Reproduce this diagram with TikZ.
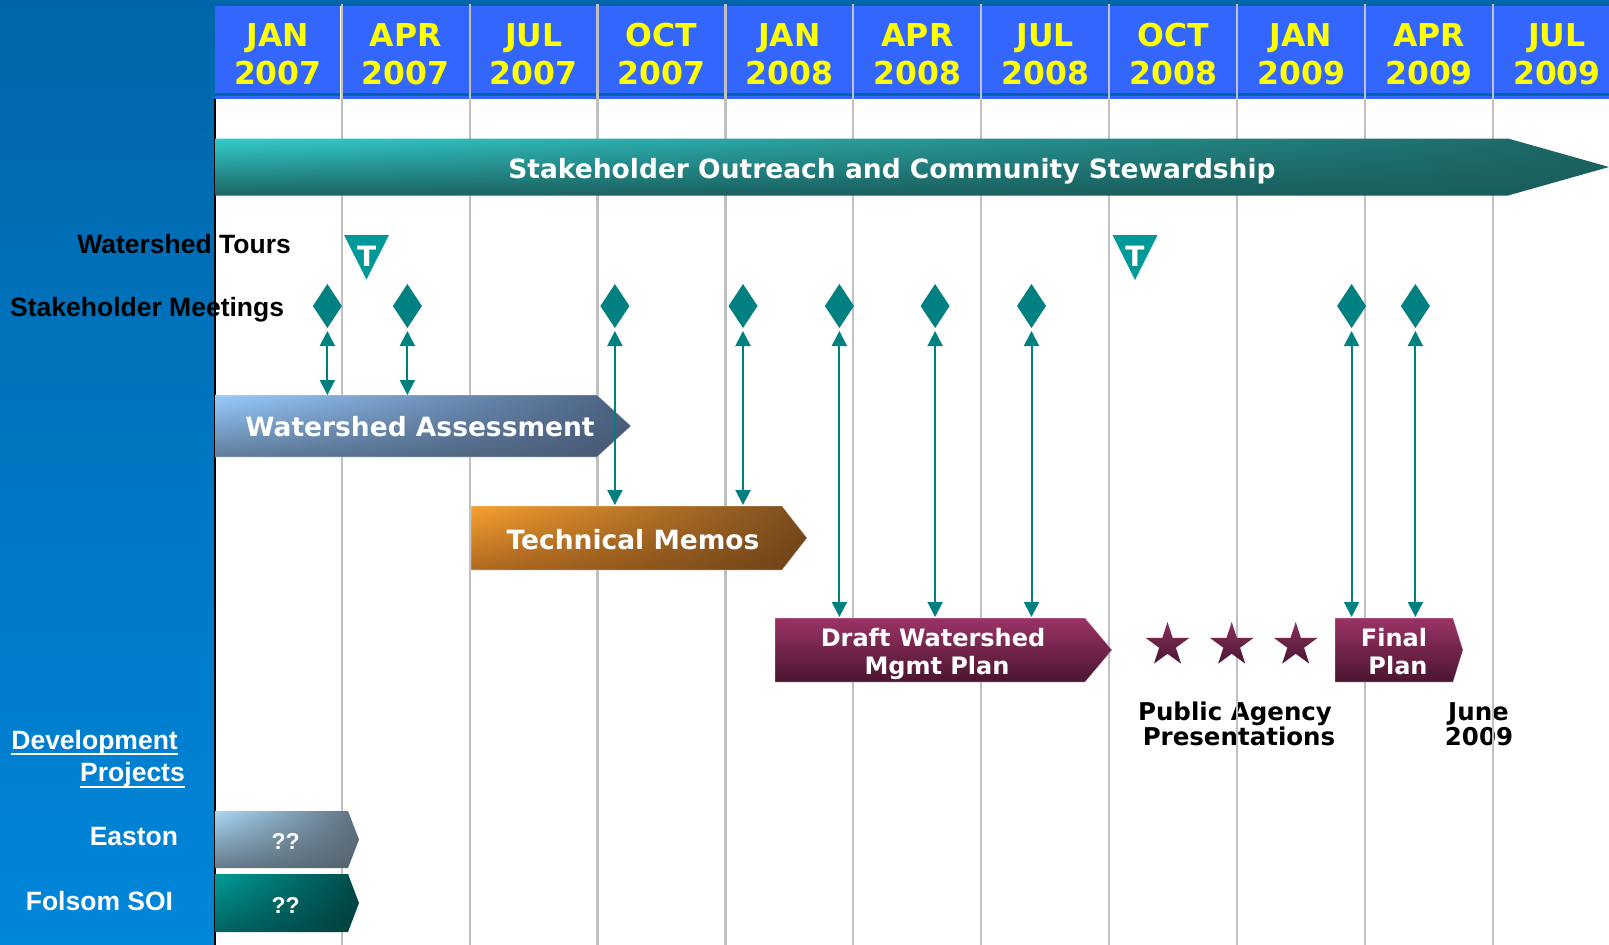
\documentclass[tikz,border=0pt]{standalone}
\usepackage{fontspec}
\usetikzlibrary{shapes.geometric,arrows.meta,shadings}
\newfontfamily\verd{DejaVu Sans}
\newfontfamily\arl{Liberation Sans}
\definecolor{panelTop}{HTML}{0066AA}
\definecolor{panelBot}{HTML}{0086DA}
\definecolor{hdrBlue}{HTML}{3366FF}
\definecolor{hdrLine}{HTML}{0066A8}
\definecolor{hdrYel}{HTML}{FFFF00}
\definecolor{gridGray}{HTML}{C0C0C0}
\definecolor{tealD}{HTML}{008080}
\definecolor{tealL}{HTML}{009999}
\definecolor{marT}{HTML}{9B3366}
\definecolor{marB}{HTML}{4A1530}
\definecolor{starT}{HTML}{8A2E5E}
\definecolor{starB}{HTML}{4A1733}
\begin{document}
\begin{tikzpicture}[x=1pt,y=-1pt,
  hdrtxt/.style={text=hdrYel, font=\verd\bfseries\fontsize{31.5}{36}\selectfont, inner sep=0pt},
  lbl/.style={font=\arl\bfseries\fontsize{26.5}{30}\selectfont, inner sep=0pt},
  bartxt/.style={text=white, font=\verd\bfseries\fontsize{26.5}{30}\selectfont, inner sep=0pt},
  plantxt/.style={text=white, font=\verd\bfseries\fontsize{24}{28}\selectfont, inner sep=0pt},
  blacktxt/.style={text=black, font=\verd\bfseries\fontsize{24.5}{28}\selectfont, inner sep=0pt},
  qtxt/.style={text=white, font=\arl\bfseries\fontsize{23}{26}\selectfont, inner sep=0pt},
  ttxt/.style={text=white, font=\verd\bfseries\fontsize{28}{30}\selectfont, inner sep=0pt},
  dia/.style={diamond, fill=tealD, minimum width=29pt, minimum height=44pt, inner sep=0pt, outer sep=0pt},
  conn/.style={draw=tealD, line width=2pt, arrows={Triangle[width=15pt,length=15pt]-Triangle[width=15pt,length=15pt]}},
  tri/.style={fill=tealL},
  starnode/.style={star, star points=5, star point ratio=2.618, minimum size=46pt, inner sep=0pt, outer sep=0pt, top color=starT, bottom color=starB},
  barline/.style={draw=white, draw opacity=0.35, line width=0.8pt}
]
\useasboundingbox (0,0) rectangle (1609,945);
\fill[white] (0,0) rectangle (1609,945);
% top strip and left panel
\fill[panelTop] (0,0) rectangle (1609,6);
\shade[top color=panelTop, bottom color=panelBot] (0,0) rectangle (214.5,945);
% header
\fill[hdrBlue] (215,6) rectangle (1609,99);
\fill[hdrLine] (215,92.5) rectangle (1609,96);
\draw[white, line width=1.5pt] (340.3,6) -- (340.3,99);
% texts that lie under the grid lines
\node[blacktxt, anchor=base] (pa1) at (1235,720) {Public Agency};
\node[blacktxt, anchor=base] (pa2) at (1239,745.7) {Presentations};
\node[blacktxt, anchor=base] (ju1) at (1478.5,720) {June};
\node[blacktxt, anchor=base] (ju2) at (1479,745.7) {2009};
% grid lines
\foreach \i in {1,...,10} {
  \draw[gridGray, line width=2.2pt] ({213.8+127.9*\i},4) -- ({213.8+127.9*\i},945);
}
\draw[black, line width=1.2pt] (215,99) -- (215,945);
% header labels
\foreach \m/\yr [count=\k from 0] in {JAN/2007,APR/2007,JUL/2007,OCT/2007,JAN/2008,APR/2008,JUL/2008,OCT/2008,JAN/2009,APR/2009,JUL/2009} {
  \node[hdrtxt, anchor=base] (hm\k) at ({277.9+127.9*\k},46.5) {\m};
  \node[hdrtxt, anchor=base] (hy\k) at ({277.9+127.9*\k},84.5) {\yr};
}
% Stakeholder outreach bar
\shade[shading=bilinear interpolation, upper left={rgb,255:red,51;green,204;blue,204}, lower left={rgb,255:red,28;green,100;blue,100}, upper right={rgb,255:red,27;green,100;blue,98}, lower right={rgb,255:red,24;green,92;blue,90}]
  (215,138.5) -- (1508,138.5) -- (1609,167) -- (1508,195.5) -- (215,195.5) -- cycle;
\node[bartxt, anchor=base] (outreach) at (892,178) {Stakeholder Outreach and Community Stewardship};
% Watershed assessment
\shade[shading=bilinear interpolation, upper left={rgb,255:red,153;green,204;blue,255}, lower left={rgb,255:red,96;green,124;blue,156}, upper right={rgb,255:red,74;green,96;blue,128}, lower right={rgb,255:red,70;green,88;blue,114}]
  (215,395) -- (597,395) -- (631,426) -- (597,457) -- (215,457) -- cycle;
\draw[barline] (215,395) -- (597,395) -- (631,426) -- (597,457) -- (215,457);
\node[bartxt, anchor=base] (wa) at (420,436.7) {Watershed Assessment};
\coordinate (waTop) at (400,395);
% Technical memos
\shade[shading=bilinear interpolation, upper left={rgb,255:red,247;green,160;blue,48}, lower left={rgb,255:red,176;green,104;blue,32}, upper right={rgb,255:red,122;green,76;blue,30}, lower right={rgb,255:red,108;green,66;blue,24}]
  (471,506) -- (782,506) -- (807,538) -- (782,570) -- (471,570) -- cycle;
\draw[barline] (471,506) -- (782,506) -- (807,538) -- (782,570) -- (471,570) -- cycle;
\node[bartxt, anchor=base] (tm) at (633,549.5) {Technical Memos};
\coordinate (tmTop) at (633,506);
% Draft plan
\shade[top color=marT, bottom color=marB]
  (775,618) -- (1085,618) -- (1112,650) -- (1085,682) -- (775,682) -- cycle;
\draw[barline] (775,618) -- (1085,618) -- (1112,650) -- (1085,682) -- (775,682) -- cycle;
\node[plantxt, anchor=base] (dr1) at (933,646.7) {Draft Watershed};
\node[plantxt, anchor=base] (dr2) at (937,674) {Mgmt Plan};
\coordinate (drTop) at (940,618);
% Final plan
\shade[top color=marT, bottom color=marB]
  (1335,618) -- (1453,618) -- (1463,650) -- (1453,682) -- (1335,682) -- cycle;
\draw[barline] (1335,618) -- (1453,618) -- (1463,650) -- (1453,682) -- (1335,682) -- cycle;
\node[plantxt, anchor=base] (fp1) at (1394,646.7) {Final};
\node[plantxt, anchor=base] (fp2) at (1398,674) {Plan};
\coordinate (fpTop) at (1398,618);
% stars
\node[starnode] (s1) at (1167.5,645) {};
\node[starnode] (s2) at (1231.7,645) {};
\node[starnode] (s3) at (1295.7,645) {};
% Easton / Folsom bars
\shade[shading=bilinear interpolation, upper left={rgb,255:red,169;green,217;blue,245}, lower left={rgb,255:red,100;green,122;blue,138}, upper right={rgb,255:red,94;green,112;blue,128}, lower right={rgb,255:red,84;green,98;blue,110}]
  (215,811) -- (348,811) -- (359,839.5) -- (348,868) -- (215,868) -- cycle;
\node[qtxt, anchor=base] (eq) at (285.7,849) {??};
\shade[shading=bilinear interpolation, upper left={rgb,255:red,0;green,156;blue,152}, lower left={rgb,255:red,0;green,100;blue,98}, upper right={rgb,255:red,0;green,74;blue,72}, lower right={rgb,255:red,0;green,62;blue,60}]
  (215,874) -- (348,874) -- (359,903) -- (348,932) -- (215,932) -- cycle;
\node[qtxt, anchor=base] (fq) at (285.7,913.3) {??};
% tour triangles
\fill[tri] (344,235) -- (389,235) -- (366.5,279.5) -- cycle;
\node[ttxt, anchor=base] (t1) at (366.7,266) {T};
\fill[tri] (1112.5,235) -- (1157.5,235) -- (1135,280) -- cycle;
\node[ttxt, anchor=base] (t2) at (1135,266) {T};
% meeting diamonds
\foreach \x [count=\j] in {327.4,407.4,614.9,743,839.4,935.1,1031.5,1351.6,1415.4} {
  \node[dia] (m\j) at (\x,306) {};
}
% connectors
\draw[conn] ([yshift=-3pt]m1.south) -- (m1.south |- waTop);
\draw[conn] ([yshift=-3pt]m2.south) -- (m2.south |- waTop);
\draw[conn] ([yshift=-3pt]m3.south) -- ([yshift=1pt]m3.south |- tmTop);
\draw[conn] ([yshift=-3pt]m4.south) -- ([yshift=1pt]m4.south |- tmTop);
\draw[conn] ([yshift=-3pt]m5.south) -- ([yshift=1pt]m5.south |- drTop);
\draw[conn] ([yshift=-3pt]m6.south) -- ([yshift=1pt]m6.south |- drTop);
\draw[conn] ([yshift=-3pt]m7.south) -- ([yshift=1pt]m7.south |- drTop);
\draw[conn] ([yshift=-3pt]m8.south) -- ([yshift=1pt]m8.south |- fpTop);
\draw[conn] ([yshift=-3pt]m9.south) -- ([yshift=1pt]m9.south |- fpTop);
% left labels
\node[lbl, anchor=base east] (tours) at (291,253) {Watershed Tours};
\node[lbl, anchor=base west] (meet) at (10,316) {Stakeholder Meetings};
\node[lbl, text=white, anchor=base east] (dev) at (178,749.3) {Development};
\node[lbl, text=white, anchor=base east] (proj) at (185,781.7) {Projects};
\draw[white, line width=2pt] ([yshift=-4.5pt]dev.base west) -- ([yshift=-4.5pt]dev.base east);
\draw[white, line width=2pt] ([yshift=-5pt]proj.base west) -- ([yshift=-5pt]proj.base east);
\node[lbl, text=white, anchor=base east] (easton) at (178.3,845.7) {Easton};
\node[lbl, text=white, anchor=base east] (folsom) at (173.3,910) {Folsom SOI};
\end{tikzpicture}
\end{document}
